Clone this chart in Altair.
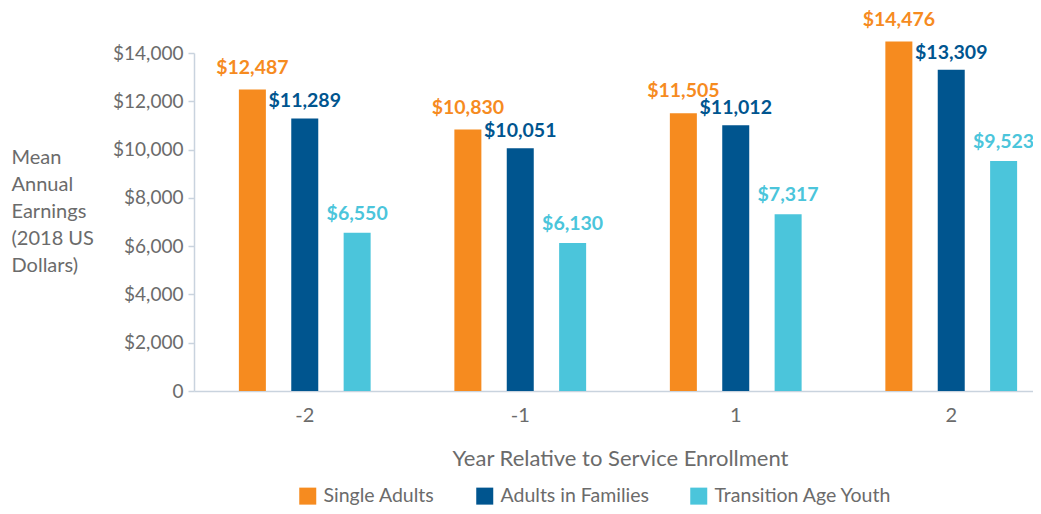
import altair as alt
import pandas as pd

years = ["-2", "-1", "1", "2"]
groups = ["Single Adults", "Adults in Families", "Transition Age Youth"]
single_adults = [12487, 10830, 11505, 14476]
adults_in_families = [11289, 10051, 11012, 13309]
transition_age_youth = [6550, 6130, 7317, 9523]
colors = ["#F68B1F", "#00558F", "#4BC5DB"]
y_ticks = [0, 2000, 4000, 6000, 8000, 10000, 12000, 14000]

rows = []
for g, vals in zip(groups, [single_adults, adults_in_families, transition_age_youth]):
    for yr, v in zip(years, vals):
        rows.append({"year": yr, "group": g, "value": v, "label": f"${v:,}"})
df = pd.DataFrame(rows)

FONT = "Lato"
GREY = "#6b6b6b"
LINE = "#c9d3de"

x_enc = alt.X(
    "year:N",
    sort=years,
    scale=alt.Scale(paddingInner=0, paddingOuter=0.014),
    axis=alt.Axis(
        title="Year Relative to Service Enrollment",
        labelAngle=0,
        labelFontSize=20,
        labelColor=GREY,
        labelFont=FONT,
        labelPadding=14,
        ticks=False,
        tickSize=0,
        domainColor=LINE,
        domainWidth=1.5,
        titleFont=FONT,
        titleFontSize=22,
        titleFontWeight="normal",
        titleColor=GREY,
        titleX=426,
        titleY=74,
        titleAlign="center",
        titleBaseline="alphabetic",
    ),
)
xoff_enc = alt.XOffset(
    "group:N", sort=groups, scale=alt.Scale(paddingInner=0.486, paddingOuter=0.8)
)
color_enc = alt.Color(
    "group:N",
    sort=groups,
    scale=alt.Scale(domain=groups, range=colors),
    legend=alt.Legend(
        title=None,
        orient="none",
        direction="horizontal",
        legendX=104,
        legendY=433,
        symbolType="square",
        symbolSize=289,
        symbolStrokeWidth=0,
        labelFont=FONT,
        labelFontSize=19.5,
        labelColor=GREY,
        labelOffset=6,
        columnPadding=40,
        labelLimit=400,
        padding=0,
    ),
)

bars = alt.Chart(df).mark_bar(size=27).encode(
    x=x_enc,
    xOffset=xoff_enc,
    y=alt.Y(
        "value:Q",
        scale=alt.Scale(domain=[0, 14000], nice=False),
        axis=alt.Axis(
            values=y_ticks,
            labelExpr="datum.value == 0 ? '0' : '$' + format(datum.value, ',')",
            grid=False,
            labelFont=FONT,
            labelFontSize=19,
            labelColor=GREY,
            labelPadding=5,
            tickSize=6,
            tickColor=LINE,
            tickWidth=1.5,
            domainColor=LINE,
            domainWidth=1.5,
            title=["Mean", "Annual", "Earnings", "(2018 US", "Dollars)"],
            titleAngle=0,
            titleAlign="left",
            titleBaseline="alphabetic",
            titleX=-183,
            titleY=110,
            titleFont=FONT,
            titleFontSize=20,
            titleFontWeight="normal",
            titleColor=GREY,
            titleLineHeight=27,
        ),
    ),
    color=color_enc,
)

label_gaps = [-16, -11, -13]
label_layers = []
for g, gap in zip(groups, label_gaps):
    label_layers.append(
        alt.Chart(df)
        .transform_filter(alt.datum.group == g)
        .mark_text(font=FONT, fontSize=19.5, fontWeight="bold", baseline="alphabetic", dy=gap)
        .encode(
            x=alt.X("year:N", sort=years),
            xOffset=alt.XOffset("group:N", sort=groups),
            y="value:Q",
            text="label:N",
            color=alt.Color("group:N", sort=groups, legend=None),
        )
    )

chart = (
    alt.layer(bars, *label_layers)
    .properties(
        width=868,
        height=338,
        autosize=alt.AutoSizeParams(type="none"),
        padding={"left": 186, "top": 45, "right": -29, "bottom": 115},
    )
    .configure_view(stroke=None)
)

chart.save("out.html", embed_options={"renderer": "svg", "actions": False})
